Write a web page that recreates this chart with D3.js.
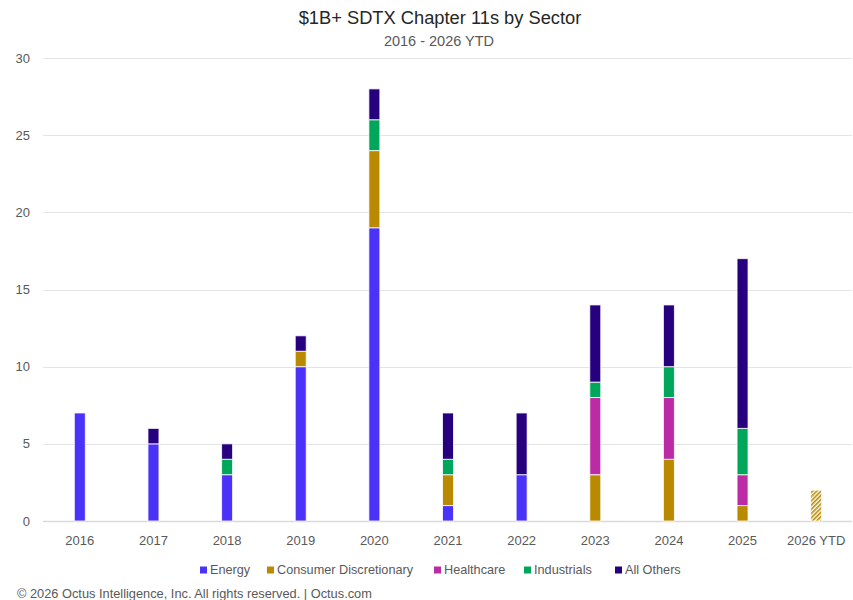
<!DOCTYPE html>
<html>
<head>
<meta charset="utf-8">
<script src="https://cdn.jsdelivr.net/npm/d3@7"></script>
<style>
  body { margin: 0; background: #fff; }
  svg { font-family: "Liberation Sans", Arial, sans-serif; }
</style>
</head>
<body>
<div id="chart"></div>
<script>
// categories and series
var years = ["2016", "2017", "2018", "2019", "2020", "2021", "2022", "2023", "2024", "2025", "2026 YTD"];
var sectors = ["Energy", "Consumer Discretionary", "Healthcare", "Industrials", "All Others"];
var colors = ["#4b32f8", "#b98900", "#bb2ba5", "#00a65a", "#27007f"];

var energy        = [7, 5, 3, 10, 19, 1, 3, 0, 0, 0, 0];
var consumerDisc  = [0, 0, 0, 1, 5, 2, 0, 3, 4, 1, 2];
var healthcare    = [0, 0, 0, 0, 0, 0, 0, 5, 4, 2, 0];
var industrials   = [0, 0, 1, 0, 2, 1, 0, 1, 2, 3, 0];
var allOthers     = [0, 1, 1, 1, 2, 3, 4, 5, 4, 11, 0];

var yTicks = [0, 5, 10, 15, 20, 25, 30];

var W = 853, H = 600;
var margin = { top: 58, right: 0, bottom: 79, left: 43 };

var svg = d3.select("#chart").append("svg")
    .attr("width", W)
    .attr("height", H);

// hatch for the partial year
var defs = svg.append("defs");
var pat = defs.append("pattern")
    .attr("id", "hatch")
    .attr("patternUnits", "userSpaceOnUse")
    .attr("width", 3).attr("height", 3)
    .attr("patternTransform", "rotate(45)");
pat.append("rect").attr("width", 3).attr("height", 3).attr("fill", "#fff");
pat.append("rect").attr("width", 1.6).attr("height", 3).attr("fill", colors[1]);

var table = years.map(function(y, i) {
    return {
        year: y,
        "Energy": energy[i],
        "Consumer Discretionary": consumerDisc[i],
        "Healthcare": healthcare[i],
        "Industrials": industrials[i],
        "All Others": allOthers[i]
    };
});

var x = d3.scaleBand()
    .domain(years)
    .range([margin.left, W - margin.right]);

var y = d3.scaleLinear()
    .domain([0, 30])
    .range([H - margin.bottom, margin.top]);

// gridlines
svg.append("g")
    .selectAll("line")
    .data(yTicks)
    .join("line")
    .attr("x1", margin.left)
    .attr("x2", W - 1)
    .attr("y1", function(d) { return Math.round(y(d)) + 0.5; })
    .attr("y2", function(d) { return Math.round(y(d)) + 0.5; })
    .attr("stroke", function(d) { return d === 0 ? "#d9d9d9" : "#e4e4e4"; })
    .attr("stroke-width", function(d) { return d === 0 ? 1.5 : 1; });

// y labels
svg.append("g")
    .selectAll("text")
    .data(yTicks)
    .join("text")
    .attr("x", 30)
    .attr("y", function(d) { return y(d); })
    .attr("dy", "0.35em")
    .attr("text-anchor", "end")
    .attr("font-size", 13)
    .attr("fill", "#595959")
    .text(function(d) { return d; });

// stacked bars
var stack = d3.stack().keys(sectors);
var series = stack(table);
var barW = 11;

svg.append("g")
    .selectAll("g")
    .data(series)
    .join("g")
    .attr("fill", function(d, i) { return colors[i]; })
    .selectAll("rect")
    .data(function(d) { return d.filter(function(p) { return p[1] - p[0] > 0; }); })
    .join("rect")
    .attr("x", function(d) { return x(d.data.year) + x.bandwidth() / 2 - barW / 2; })
    .attr("width", barW)
    .attr("y", function(d) { return y(d[1]); })
    .attr("height", function(d) { return y(d[0]) - y(d[1]); })
    .attr("fill", function(d) { return d.data.year === "2026 YTD" ? "url(#hatch)" : null; })
    .attr("stroke", "#fff")
    .attr("stroke-opacity", 0.8)
    .attr("stroke-width", 1);

// x labels
svg.append("g")
    .selectAll("text")
    .data(years)
    .join("text")
    .attr("x", function(d) { return x(d) + x.bandwidth() / 2; })
    .attr("y", 545)
    .attr("text-anchor", "middle")
    .attr("font-size", 13)
    .attr("fill", "#595959")
    .text(function(d) { return d; });

// titles
svg.append("text")
    .attr("x", 440).attr("y", 24)
    .attr("text-anchor", "middle")
    .attr("font-size", 18.3)
    .attr("fill", "#262626")
    .text("$1B+ SDTX Chapter 11s by Sector");

svg.append("text")
    .attr("x", 439).attr("y", 46)
    .attr("text-anchor", "middle")
    .attr("font-size", 14.5)
    .attr("fill", "#595959")
    .text("2016 - 2026 YTD");

// legend
var legendX = [200, 267, 434, 524, 615];
var lg = svg.append("g")
    .selectAll("g")
    .data(sectors)
    .join("g")
    .attr("transform", function(d, i) { return "translate(" + legendX[i] + ",570)"; });
lg.append("rect")
    .attr("x", 0).attr("y", -3.5)
    .attr("width", 7).attr("height", 7)
    .attr("fill", function(d, i) { return colors[i]; });
lg.append("text")
    .attr("x", 10)
    .attr("dy", "0.35em")
    .attr("font-size", 12.7)
    .attr("fill", "#595959")
    .text(function(d) { return d; });

// footer
svg.append("text")
    .attr("x", 17).attr("y", 598)
    .attr("font-size", 12.8)
    .attr("fill", "#595959")
    .text("\u00a9 2026 Octus Intelligence, Inc. All rights reserved.  |  Octus.com");
</script>
</body>
</html>
